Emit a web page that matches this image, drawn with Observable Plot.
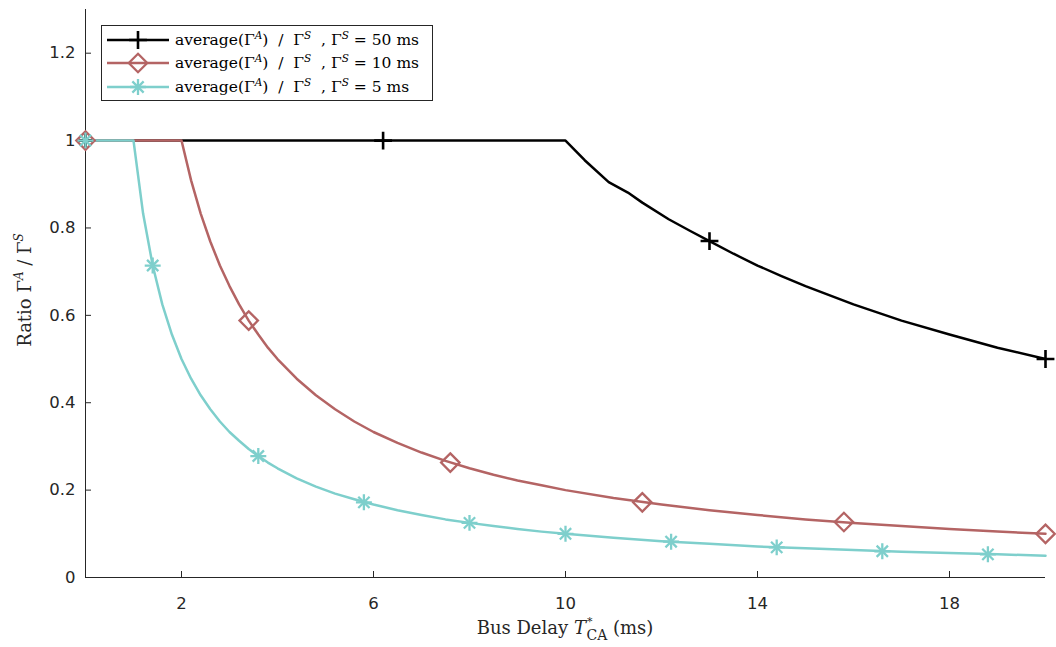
<!DOCTYPE html>
<html><head><meta charset="utf-8">
<script src="https://cdn.jsdelivr.net/npm/d3@7"></script>
<script src="https://cdn.jsdelivr.net/npm/@observablehq/plot@0.6"></script>
<style>
body{margin:0;background:#fff;}
#wrap{position:relative;width:1056px;height:647px;}
#legend{position:absolute;left:101px;top:25px;width:332px;height:76px;border:1px solid #262626;background:#fff;box-sizing:border-box;font-family:"DejaVu Serif",serif;font-size:15.5px;color:#000;}
.row{position:absolute;left:0;height:24px;display:flex;align-items:center;}
.row svg{display:block;}
.row span{margin-left:1px;white-space:pre;}
sup{font-size:10.5px;font-style:italic;vertical-align:6px;line-height:0;}
</style></head>
<body><div id="wrap"></div>
<script>
// ---- data ----
const xTicks = [2, 6, 10, 14, 18];
const yTicks = [0, 0.2, 0.4, 0.6, 0.8, 1, 1.2];
const yTickLabels = ["0", "0.2", "0.4", "0.6", "0.8", "1", "1.2"];

const seriesNames = ["50", "10", "5"];
const seriesColors = ["#000000", "#b46464", "#7ecfcc"];

const x50 = [0,10,10.4,10.9,11.3,11.6,12.15,12.6,13,13.5,14,14.5,15,16,17,18,19,20];
const y50 = [1,1,0.955,0.905,0.881,0.858,0.82,0.793,0.77,0.741,0.714,0.69,0.667,0.625,0.588,0.556,0.526,0.5];

const x10 = [0,2,2.2,2.4,2.6,2.8,3,3.2,3.4,3.6,3.8,4,4.4,4.8,5.2,5.6,6,6.5,7,7.5,8,8.5,9,9.5,10,11,12,13,14,15,16,17,18,19,20];
const y10 = [1,1,0.909,0.833,0.769,0.714,0.667,0.625,0.588,0.556,0.526,0.5,0.455,0.417,0.385,0.357,0.333,0.308,0.286,0.267,0.25,0.235,0.222,0.211,0.2,0.182,0.167,0.154,0.143,0.133,0.125,0.118,0.111,0.105,0.1];

const x5 = [0,1,1.2,1.4,1.6,1.8,2,2.2,2.4,2.6,2.8,3,3.2,3.4,3.6,3.8,4,4.4,4.8,5.2,5.6,6,6.5,7,7.5,8,8.5,9,9.5,10,11,12,13,14,15,16,17,18,19,20];
const y5 = [1,1,0.833,0.714,0.625,0.556,0.5,0.455,0.417,0.385,0.357,0.333,0.313,0.294,0.278,0.263,0.25,0.227,0.208,0.192,0.179,0.167,0.154,0.143,0.133,0.125,0.118,0.111,0.105,0.1,0.091,0.083,0.077,0.071,0.067,0.063,0.059,0.056,0.053,0.05];

const m50x = [0, 6.2, 13, 20];
const m50y = [1, 1, 0.77, 0.5];
const m10x = [0, 3.4, 7.6, 11.6, 15.8, 20];
const m10y = [1, 0.588, 0.263, 0.172, 0.127, 0.1];
const m5x = [0, 1.4, 3.6, 5.8, 8, 10, 12.2, 14.4, 16.6, 18.8];
const m5y = [1, 0.714, 0.278, 0.172, 0.125, 0.1, 0.082, 0.069, 0.06, 0.053];

// ---- build tables ----
const zip = (xs, ys) => xs.map((x, i) => ({x, y: ys[i]}));
const l50 = zip(x50, y50), l10 = zip(x10, y10), l5 = zip(x5, y5);
const p50 = zip(m50x, m50y), p10 = zip(m10x, m10y), p5 = zip(m5x, m5y);
const axisColor = "#262626";
const SW = 2.5;

const chart = Plot.plot({
  width: 1056, height: 647,
  marginLeft: 85, marginRight: 11, marginTop: 9, marginBottom: 70,
  x: {domain: [0, 20]},
  y: {domain: [0, 1.3]},
  style: {fontFamily: "'DejaVu Sans', sans-serif", fontSize: "16.5px", color: axisColor, background: "#fff"},
  marks: [
    // inward ticks
    Plot.ruleX(xTicks, {x: d => d, y1: () => 0, y2: () => 0, insetBottom: 6, stroke: axisColor, strokeWidth: 1}),
    Plot.ruleY(yTicks, {y: d => d, x1: () => 0, x2: () => 0, insetRight: -6, stroke: axisColor, strokeWidth: 1}),
    // tick labels
    Plot.axisX({ticks: xTicks, tickSize: 0, tickPadding: 20, tickFormat: d => String(d), label: null, fill: axisColor}),
    Plot.axisY({ticks: yTicks, tickSize: 0, tickPadding: 10, tickFormat: (d, i) => yTickLabels[i], label: null, fill: axisColor}),
    Plot.ruleY([0], {stroke: axisColor, strokeWidth: 1}),
    Plot.ruleX([0], {stroke: axisColor, strokeWidth: 1}),
    Plot.line(l50, {x: "x", y: "y", stroke: seriesColors[0], strokeWidth: SW}),
    Plot.line(l10, {x: "x", y: "y", stroke: seriesColors[1], strokeWidth: SW}),
    Plot.line(l5, {x: "x", y: "y", stroke: seriesColors[2], strokeWidth: SW}),
    Plot.dot(p50, {x: "x", y: "y", symbol: "plus", r: 5.8, stroke: seriesColors[0], strokeWidth: 2.6}),
    Plot.dot(p10, {x: "x", y: "y", symbol: "diamond2", r: 8.3, stroke: seriesColors[1], fill: "none", strokeWidth: 2.3}),
    Plot.dot(p5, {x: "x", y: "y", symbol: "plus", r: 5.2, stroke: seriesColors[2], strokeWidth: 2.3}),
    Plot.dot(p5, {x: "x", y: "y", symbol: "times", r: 5.2, stroke: seriesColors[2], strokeWidth: 2.3})
  ]
});

const wrap = document.getElementById("wrap");
wrap.appendChild(chart);

// axis titles (with super/subscripts)
const svg = d3.select(chart);
const serif = "'DejaVu Serif',serif";
const xl = svg.append("text").attr("x", 565).attr("y", 634).attr("text-anchor", "middle")
  .attr("font-family", serif).attr("font-size", 18).attr("fill", axisColor);
xl.append("tspan").text("Bus Delay ");
xl.append("tspan").attr("font-style", "italic").text("T");
xl.append("tspan").attr("font-size", 11).attr("dy", -9).attr("dx", 1).text("*");
xl.append("tspan").attr("font-size", 14).attr("dy", 15).attr("dx", -6).text("CA");
xl.append("tspan").attr("dy", -6).text(" (ms)");

const yl = svg.append("text").attr("transform", "translate(31,290) rotate(-90)").attr("text-anchor", "middle")
  .attr("font-family", serif).attr("font-size", 18).attr("fill", axisColor);
yl.append("tspan").text("Ratio Γ");
yl.append("tspan").attr("font-size", 12).attr("font-style", "italic").attr("dy", -8).text("A");
yl.append("tspan").attr("dy", 8).text(" / Γ");
yl.append("tspan").attr("font-size", 12).attr("font-style", "italic").attr("dy", -8).text("S");

// legend
const legend = document.createElement("div");
legend.id = "legend";
const rowsTop = [2, 25, 49];
const syms = [["plus", 5.8, 2.6], ["diamond2", 8.3, 2.3], ["asterisk8", 5.2, 2.3]];
seriesNames.forEach((name, i) => {
  const row = document.createElement("div");
  row.className = "row";
  row.style.top = rowsTop[i] + "px";
  const c = seriesColors[i];
  const [sym, r, sw] = syms[i];
  const size = Math.PI * r * r;
  let paths = "";
  const mk = (t) => d3.symbol(t, size)();
  if (sym === "plus") paths = `<path d="${mk(d3.symbolPlus)}" fill="none" stroke="${c}" stroke-width="${sw}"/>`;
  else if (sym === "diamond2") paths = `<path d="${mk(d3.symbolDiamond2)}" fill="none" stroke="${c}" stroke-width="${sw}"/>`;
  else paths = `<path d="${mk(d3.symbolPlus)}" fill="none" stroke="${c}" stroke-width="${sw}"/><path d="${mk(d3.symbolTimes)}" fill="none" stroke="${c}" stroke-width="${sw}"/>`;
  row.innerHTML = `<svg width="72" height="24"><line x1="5" x2="67" y1="12" y2="12" stroke="${c}" stroke-width="${SW}"/><g transform="translate(36,12)">${paths}</g></svg>` +
    `<span>average(Γ<sup>A</sup>)  /  Γ<sup>S</sup>  , Γ<sup>S</sup> = ${name} ms</span>`;
  legend.appendChild(row);
});
wrap.appendChild(legend);
</script>
</body></html>
